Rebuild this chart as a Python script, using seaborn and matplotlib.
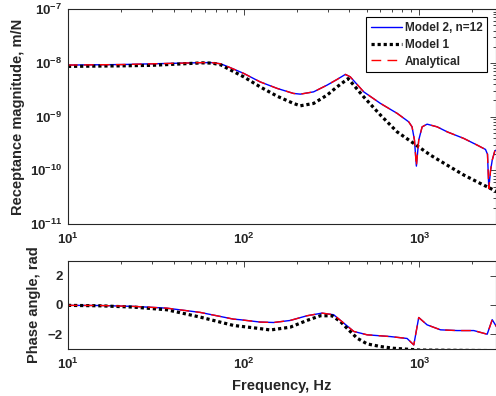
import math
import pandas as pd
import seaborn as sns
import matplotlib.pyplot as plt
from matplotlib.ticker import LogLocator, FuncFormatter, NullFormatter

# values
freq_m2 = [10, 20, 30, 45, 58, 66, 74, 82, 100, 124, 155, 192, 210, 250, 298, 340, 379, 404,
           482, 600, 747, 869, 908, 937, 961, 991, 1036, 1106, 1262, 1439, 1788, 2132,
           2377, 2440, 2483, 2540, 2596, 2686, 2750]
mag_m2 = [9.1e-9, 9.3e-9, 9.6e-9, 9.9e-9, 1.01e-8, 1.01e-8, 9.6e-9, 8.4e-9, 6.37e-9, 4.43e-9,
          3.35e-9, 2.7e-9, 2.62e-9, 2.89e-9, 3.85e-9, 4.92e-9, 6.1e-9, 5.5e-9,
          2.89e-9, 1.76e-9, 1.15e-9, 8.0e-10, 6.45e-10, 3.66e-10, 1.2e-10, 3.66e-10,
          6.45e-10, 7.24e-10, 6.45e-10, 5.21e-10, 3.93e-10, 2.95e-10,
          2.45e-10, 2.0e-10, 4.6e-11, 1.0e-10, 1.55e-10, 2.31e-10, 2.4e-10]
mag_analytical = list(mag_m2)

freq_m1 = [10, 20, 30, 45, 58, 66, 74, 82, 100, 124, 155, 192, 210, 250, 298, 340, 393,
           482, 600, 747, 929, 1156, 1439, 1788, 2225, 2650, 2750]
mag_m1 = [8.6e-9, 8.8e-9, 9.0e-9, 9.6e-9, 1.0e-8, 9.9e-9, 9.2e-9, 7.7e-9, 5.5e-9, 3.58e-9,
          2.4e-9, 1.76e-9, 1.59e-9, 1.76e-9, 2.51e-9, 3.58e-9, 5.1e-9,
          2.33e-9, 1.07e-9, 5.2e-10, 3.17e-10, 1.92e-10, 1.25e-10, 8.2e-11, 5.7e-11,
          4.3e-11, 4.0e-11]

pfreq_m2 = [10, 15.2, 23.6, 36.5, 56.5, 87.5, 95.5, 124, 148, 184, 229, 279, 325, 371,
            423, 504, 684, 851, 929, 991, 1106, 1318, 1640, 2038, 2430, 2596, 2750]
phase_m2 = [-0.03, -0.04, -0.1, -0.22, -0.51, -0.97, -1.01, -1.17, -1.2, -1.06, -0.74,
            -0.56, -0.67, -1.24, -1.81, -2.04, -2.16, -2.29, -2.73, -0.86, -1.36,
            -1.7, -1.75, -1.75, -2.0, -1.01, -1.5]
phase_analytical = list(phase_m2)

pfreq_m1 = [10, 15.2, 23.6, 36.5, 56.5, 87.5, 119, 142, 184, 229, 273, 318, 355, 387,
            442, 504, 600, 714, 1000, 2750]
phase_m1 = [-0.03, -0.06, -0.15, -0.33, -0.83, -1.4, -1.59, -1.71, -1.52, -1.06, -0.74,
            -0.74, -1.13, -1.59, -2.27, -2.66, -2.84, -2.96, -3.08, -3.12]

sns.set_theme(style="white")
plt.rcParams['font.family'] = ['Liberation Sans', 'DejaVu Sans']
plt.rcParams['font.weight'] = 'bold'
plt.rcParams['axes.labelweight'] = 'bold'
dark = '#262626'

fig = plt.figure(figsize=(4.96, 3.96), dpi=100)
ax1 = fig.add_axes([0.137, 0.434, 0.862, 0.543])
ax2 = fig.add_axes([0.137, 0.119, 0.862, 0.222])

mag = pd.DataFrame({'f': freq_m2, 'm': mag_m2})
mag1 = pd.DataFrame({'f': freq_m1, 'm': mag_m1})
ph = pd.DataFrame({'f': pfreq_m2, 'p': phase_m2})
ph1 = pd.DataFrame({'f': pfreq_m1, 'p': phase_m1})

dot = (0, (1, 0.9))
dash = (0, (7, 4.5))

sns.lineplot(data=mag, x='f', y='m', ax=ax1, color='blue', lw=1, label='Model 2, n=12',
             estimator=None, sort=False)
sns.lineplot(data=mag1, x='f', y='m', ax=ax1, color='black', lw=2.3, linestyle=dot,
             label='Model 1', estimator=None, sort=False)
sns.lineplot(x=freq_m2, y=mag_analytical, ax=ax1, color='red', lw=1, linestyle=dash,
             label='Analytical', estimator=None, sort=False)

sns.lineplot(data=ph, x='f', y='p', ax=ax2, color='blue', lw=1, estimator=None, sort=False)
sns.lineplot(data=ph1, x='f', y='p', ax=ax2, color='black', lw=2.3, linestyle=dot,
             estimator=None, sort=False)
sns.lineplot(x=pfreq_m2, y=phase_analytical, ax=ax2, color='red', lw=1, linestyle=dash,
             estimator=None, sort=False)

pow_fmt = FuncFormatter(lambda v, pos: r'$\mathdefault{10^{%d}}$' % round(math.log10(v)))

for ax in (ax1, ax2):
    ax.set_xscale('log')
    ax.set_xlim(10, 2710)
    ax.xaxis.set_major_locator(LogLocator(base=10))
    ax.xaxis.set_minor_locator(LogLocator(base=10, subs=range(2, 10)))
    ax.xaxis.set_minor_formatter(NullFormatter())
    ax.xaxis.set_major_formatter(pow_fmt)
    ax.tick_params(which='both', direction='in', top=True, right=True, colors=dark,
                   labelsize=9.5, width=0.6, pad=4)
    ax.tick_params(axis='x', which='both', pad=5.5)
    ax.tick_params(which='major', length=4)
    ax.tick_params(which='minor', length=2)
    for s in ax.spines.values():
        s.set_color(dark)
        s.set_linewidth(0.8)

ax1.set_yscale('log')
ax1.set_ylim(1e-11, 1e-7)
ax1.yaxis.set_major_locator(LogLocator(base=10))
ax1.yaxis.set_minor_locator(LogLocator(base=10, subs=range(2, 10)))
ax1.yaxis.set_minor_formatter(NullFormatter())
ax1.yaxis.set_major_formatter(pow_fmt)
ax1.set_xlabel('')
ax1.set_ylabel('Receptance magnitude, m/N', fontsize=10.5, color=dark)

ax2.set_ylim(-3, 3)
ax2.set_yticks([-2, 0, 2])
ax2.set_xlabel('Frequency, Hz', fontsize=10.5, color=dark)
ax2.set_ylabel('Phase angle, rad', fontsize=10.5, color=dark)
ax1.yaxis.set_label_coords(-0.1, 0.5)
ax2.yaxis.set_label_coords(-0.064, 0.5)
ax2.xaxis.set_label_coords(0.5, -0.34)

leg = ax1.legend(loc='upper right', fontsize=8.5, frameon=True, fancybox=False,
                 edgecolor='black', framealpha=1, handlelength=2.6, handletextpad=0.25,
                 borderpad=0.4, labelspacing=0.4, borderaxespad=0.7)
leg.get_frame().set_linewidth(0.8)

plt.savefig('out.png', dpi=100)
